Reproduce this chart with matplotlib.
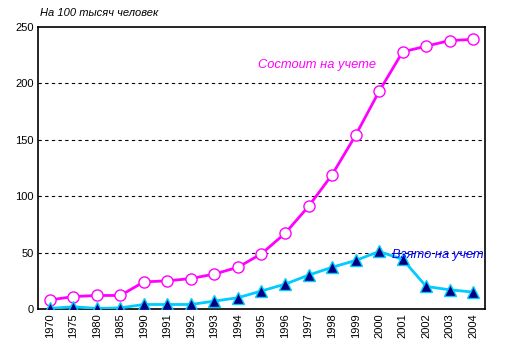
import matplotlib
matplotlib.use("Agg")
import matplotlib.pyplot as plt

years = ["1970", "1975", "1980", "1985", "1990", "1991", "1992", "1993", "1994", "1995",
         "1996", "1997", "1998", "1999", "2000", "2001", "2002", "2003", "2004"]
registered = [8, 11, 12, 12, 24, 25, 27, 31, 37, 49, 67, 91, 119, 154, 193, 228, 233, 238, 239]
taken = [0.5, 2, 0.5, 1, 4, 4, 4, 7, 10, 16, 22, 30, 37, 43, 51, 44, 20, 17, 15]

plt.rcParams['font.family'] = ['Liberation Sans', 'DejaVu Sans']

fig = plt.figure(figsize=(5.13, 3.56), dpi=100)
ax = fig.add_axes([38/513, 47/356, 447/513, 282/356])

x = list(range(len(years)))
ax.plot(x, registered, color='#FF00FF', lw=2, marker='o', ms=8, mfc='white', mec='#FF00FF', mew=1, zorder=3)
ax.plot(x, taken, color='#00CCFF', lw=2, marker='^', ms=8, mfc='#000080', mec='#00CCFF', mew=1, zorder=3)

ax.set_xlim(-0.5, len(years) - 0.5)
ax.set_ylim(0, 250)
ax.set_yticks([0, 50, 100, 150, 200, 250])
ax.set_xticks(x)
ax.set_xticklabels(years, rotation=90, fontsize=8)
ax.tick_params(axis='y', labelsize=8, length=0, pad=3)
ax.tick_params(axis='x', length=0, pad=3)
for v in [50, 100, 150, 200]:
    ax.axhline(v, color='black', lw=0.8, ls=(0, (3, 3)), zorder=1)
for s in ax.spines.values():
    s.set_linewidth(1.2)
    s.set_color('black')

ax.text(8.85, 216, "Состоит на учете", color='#FF00FF', fontsize=9.3, style='italic', ha='left', va='center')
ax.text(14.55, 47.5, "Взято на учет", color='#0000FF', fontsize=9.3, style='italic', ha='left', va='center', zorder=4)
fig.text(40/513, 1 - 13/356, "На 100 тысяч человек", fontsize=8, style='italic', ha='left', va='center')

fig.savefig("out.png", dpi=100)
